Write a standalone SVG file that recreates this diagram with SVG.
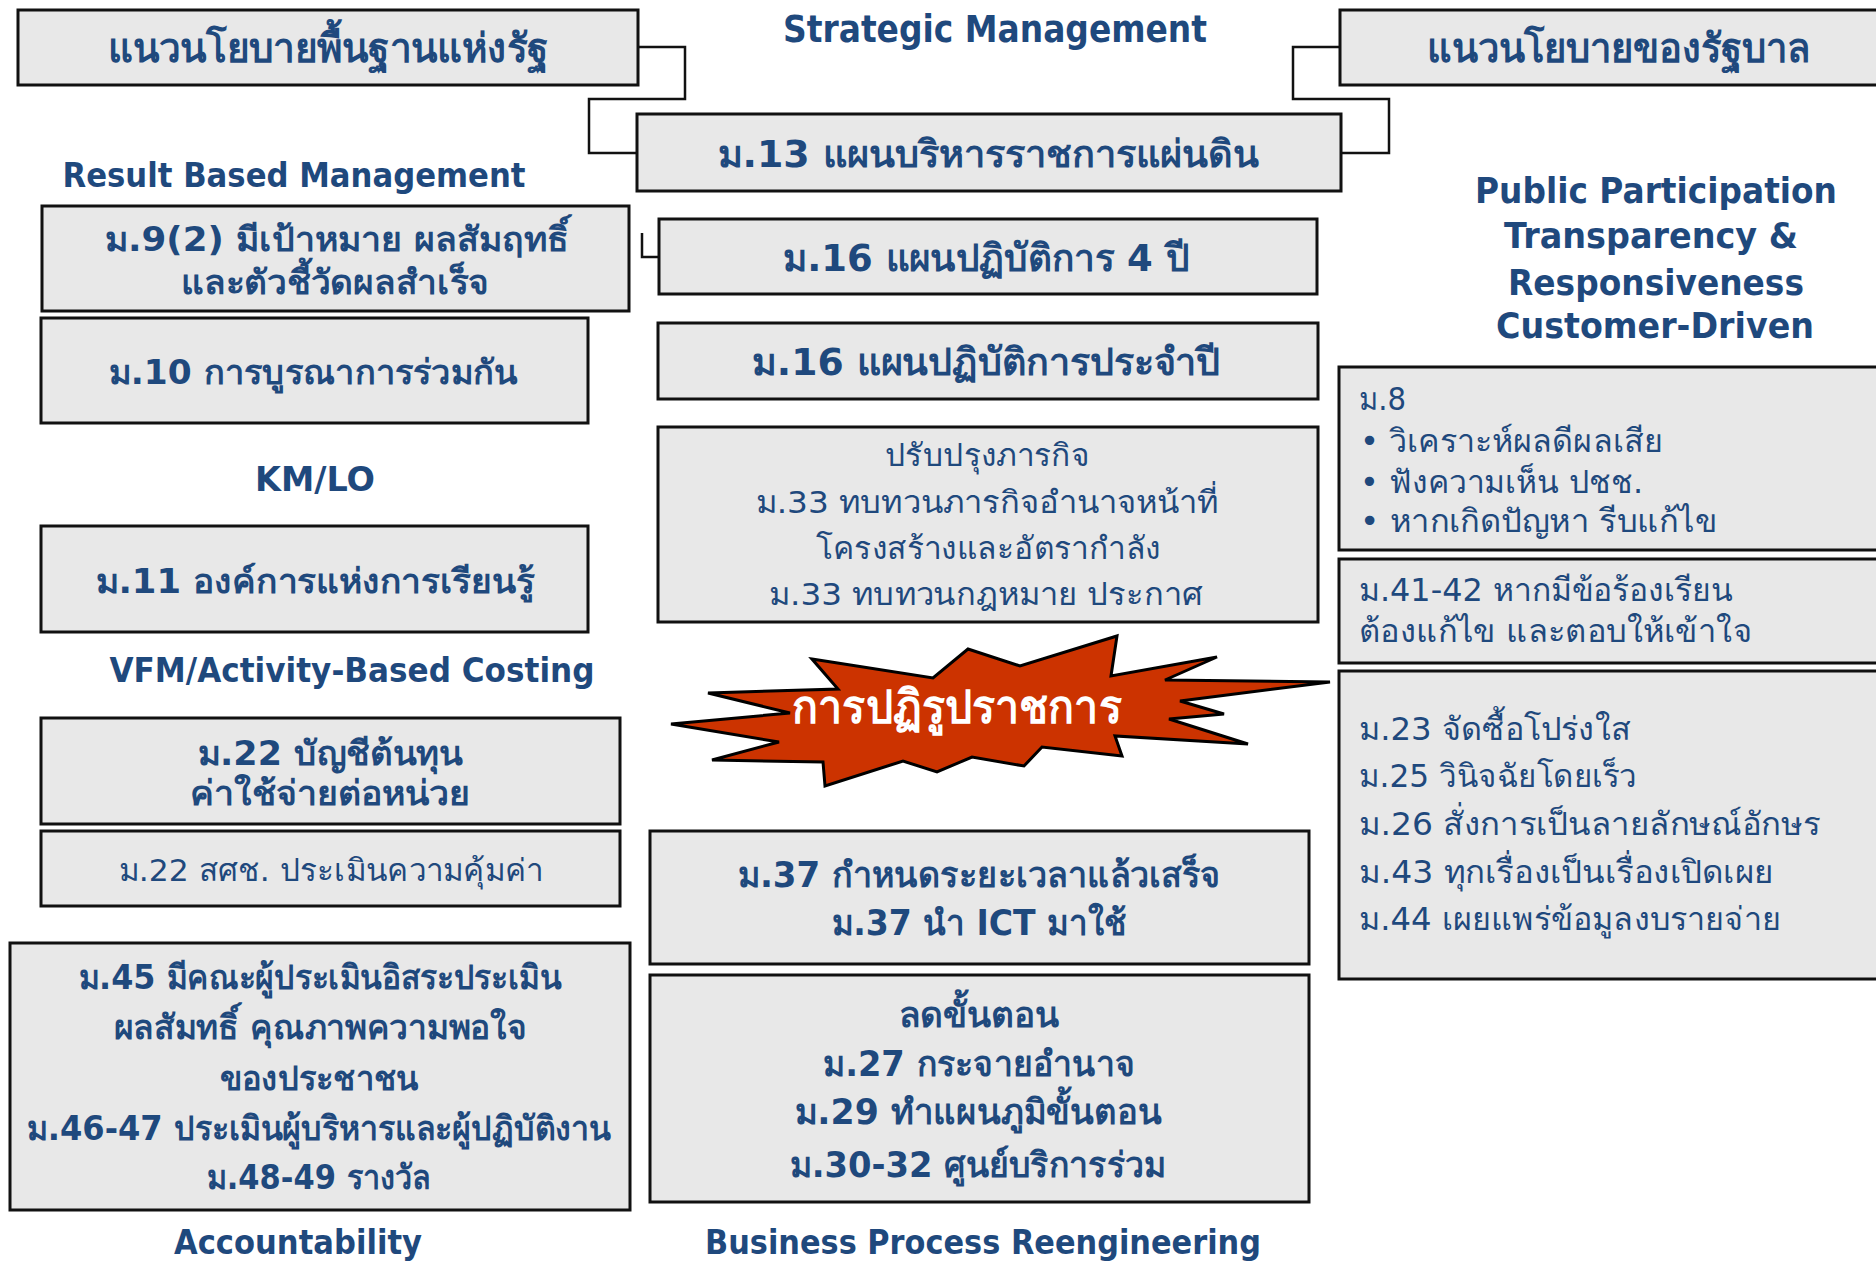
<svg xmlns="http://www.w3.org/2000/svg" width="1876" height="1263" viewBox="0 0 1876 1263">
<style>
.box{fill:#e8e8e8;stroke:#111;stroke-width:3}
.conn{fill:none;stroke:#111;stroke-width:2.5}
text{font-family:"DejaVu Sans","Noto Sans",sans-serif;fill:#1f497d;text-anchor:middle}
.b{font-weight:bold}
.l{text-anchor:start}
.burst{fill:#cc3300;stroke:#000;stroke-width:3;stroke-linejoin:miter}
</style>
<rect width="1876" height="1263" fill="#fff"/>
<g id="connectors">
<path class="conn" d="M638,47 H685 V99 H589 V153 H637"/>
<path class="conn" d="M1340,47 H1293 V99 H1389 V153 H1341"/>
<path class="conn" d="M642,233 V257 H659"/>
</g>
<g id="title-strategic"><text class="b" x="995" y="42" font-size="37" textLength="424" lengthAdjust="spacingAndGlyphs">Strategic Management</text></g>
<g id="box-state-policy"><rect class="box" x="18" y="10" width="620" height="75"/><text class="b" x="328" y="62" font-size="40" textLength="441" lengthAdjust="spacingAndGlyphs">แนวนโยบายพื้นฐานแห่งรัฐ</text></g>
<g id="box-gov-policy"><rect class="box" x="1340" y="10" width="560" height="75"/><text class="b" x="1619" y="62" font-size="40" textLength="384" lengthAdjust="spacingAndGlyphs">แนวนโยบายของรัฐบาล</text></g>
<g id="box-m13"><rect class="box" x="637" y="114" width="704" height="77"/><text class="b" x="988" y="167" font-size="38" textLength="541" lengthAdjust="spacingAndGlyphs">ม.13 แผนบริหารราชการแผ่นดิน</text></g>
<g id="title-rbm"><text class="b" x="294" y="187" font-size="34" textLength="463" lengthAdjust="spacingAndGlyphs">Result Based Management</text></g>
<g id="box-m9"><rect class="box" x="42" y="206" width="587" height="105"/><text class="b" x="337" y="251" font-size="34" textLength="464" lengthAdjust="spacingAndGlyphs">ม.9(2) มีเป้าหมาย ผลสัมฤทธิ์</text><text class="b" x="335" y="294" font-size="34" textLength="308" lengthAdjust="spacingAndGlyphs">และตัวชี้วัดผลสำเร็จ</text></g>
<g id="box-m16-4y"><rect class="box" x="659" y="219" width="658" height="75"/><text class="b" x="986" y="271" font-size="38" textLength="406" lengthAdjust="spacingAndGlyphs">ม.16 แผนปฏิบัติการ 4 ปี</text></g>
<g id="title-public"><text class="b" x="1656" y="203" font-size="35" textLength="362" lengthAdjust="spacingAndGlyphs">Public Participation</text><text class="b" x="1651" y="248" font-size="35" textLength="294" lengthAdjust="spacingAndGlyphs">Transparency &amp;</text><text class="b" x="1656" y="295" font-size="35" textLength="296" lengthAdjust="spacingAndGlyphs">Responsiveness</text><text class="b" x="1655" y="338" font-size="35" textLength="318" lengthAdjust="spacingAndGlyphs">Customer-Driven</text></g>
<g id="box-m10"><rect class="box" x="41" y="318" width="547" height="105"/><text class="b" x="313" y="384" font-size="34" textLength="409" lengthAdjust="spacingAndGlyphs">ม.10 การบูรณาการร่วมกัน</text></g>
<g id="box-m16-yr"><rect class="box" x="658" y="323" width="660" height="76"/><text class="b" x="986" y="375" font-size="38" textLength="468" lengthAdjust="spacingAndGlyphs">ม.16 แผนปฏิบัติการประจำปี</text></g>
<g id="title-kmlo"><text class="b" x="315" y="491" font-size="34" textLength="120" lengthAdjust="spacingAndGlyphs">KM/LO</text></g>
<g id="box-m33"><rect class="box" x="658" y="427" width="660" height="195"/><text x="987" y="466" font-size="31" textLength="204" lengthAdjust="spacingAndGlyphs">ปรับปรุงภารกิจ</text><text x="987" y="513" font-size="31" textLength="463" lengthAdjust="spacingAndGlyphs">ม.33 ทบทวนภารกิจอำนาจหน้าที่</text><text x="988" y="559" font-size="31" textLength="345" lengthAdjust="spacingAndGlyphs">โครงสร้างและอัตรากำลัง</text><text x="986" y="605" font-size="31" textLength="434" lengthAdjust="spacingAndGlyphs">ม.33 ทบทวนกฎหมาย ประกาศ</text></g>
<g id="box-m8"><rect class="box" x="1339" y="367" width="561" height="183"/><text class="l" x="1359" y="410" font-size="32" textLength="47" lengthAdjust="spacingAndGlyphs">ม.8</text><text class="l" x="1360" y="452" font-size="32" textLength="303" lengthAdjust="spacingAndGlyphs">• วิเคราะห์ผลดีผลเสีย</text><text class="l" x="1360" y="493" font-size="32" textLength="283" lengthAdjust="spacingAndGlyphs">• ฟังความเห็น ปชช.</text><text class="l" x="1360" y="532" font-size="32" textLength="357" lengthAdjust="spacingAndGlyphs">• หากเกิดปัญหา รีบแก้ไข</text></g>
<g id="box-m11"><rect class="box" x="41" y="526" width="547" height="106"/><text class="b" x="315" y="593" font-size="34" textLength="439" lengthAdjust="spacingAndGlyphs">ม.11 องค์การแห่งการเรียนรู้</text></g>
<g id="box-m41"><rect class="box" x="1339" y="559" width="561" height="104"/><text class="l" x="1359" y="601" font-size="32" textLength="374" lengthAdjust="spacingAndGlyphs">ม.41-42 หากมีข้อร้องเรียน</text><text class="l" x="1359" y="642" font-size="32" textLength="393" lengthAdjust="spacingAndGlyphs">ต้องแก้ไข และตอบให้เข้าใจ</text></g>
<g id="title-vfm"><text class="b" x="352" y="682" font-size="34" textLength="485" lengthAdjust="spacingAndGlyphs">VFM/Activity-Based Costing</text></g>
<g id="burst"><polygon class="burst" points="812,659 933,678 968,649 1020,666 1117,636 1111,676 1217,657 1165,680 1330,682 1180,701 1224,714 1169,719 1248,744 1115,736 1122,756 1042,747 1024,766 972,757 937,772 903,761 825,786 823,762 712,760 779,742 671,724 790,713 708,693 838,689"/><text class="b" x="957" y="723" font-size="46" style="fill:#fff" textLength="330" lengthAdjust="spacingAndGlyphs">การปฏิรูปราชการ</text></g>
<g id="box-m23"><rect class="box" x="1339" y="671" width="561" height="308"/><text class="l" x="1359" y="740" font-size="32" textLength="272" lengthAdjust="spacingAndGlyphs">ม.23 จัดซื้อโปร่งใส</text><text class="l" x="1359" y="787" font-size="32" textLength="278" lengthAdjust="spacingAndGlyphs">ม.25 วินิจฉัยโดยเร็ว</text><text class="l" x="1359" y="835" font-size="32" textLength="461" lengthAdjust="spacingAndGlyphs">ม.26 สั่งการเป็นลายลักษณ์อักษร</text><text class="l" x="1359" y="883" font-size="32" textLength="415" lengthAdjust="spacingAndGlyphs">ม.43 ทุกเรื่องเป็นเรื่องเปิดเผย</text><text class="l" x="1359" y="930" font-size="32" textLength="422" lengthAdjust="spacingAndGlyphs">ม.44 เผยแพร่ข้อมูลงบรายจ่าย</text></g>
<g id="box-m22a"><rect class="box" x="41" y="718" width="579" height="106"/><text class="b" x="330" y="765" font-size="34" textLength="265" lengthAdjust="spacingAndGlyphs">ม.22 บัญชีต้นทุน</text><text class="b" x="330" y="805" font-size="34" textLength="280" lengthAdjust="spacingAndGlyphs">ค่าใช้จ่ายต่อหน่วย</text></g>
<g id="box-m22b"><rect class="box" x="41" y="831" width="579" height="75"/><text x="331" y="881" font-size="31" textLength="425" lengthAdjust="spacingAndGlyphs">ม.22 สศช. ประเมินความคุ้มค่า</text></g>
<g id="box-m37"><rect class="box" x="650" y="831" width="659" height="133"/><text class="b" x="979" y="887" font-size="35" textLength="483" lengthAdjust="spacingAndGlyphs">ม.37 กำหนดระยะเวลาแล้วเสร็จ</text><text class="b" x="979" y="935" font-size="35" textLength="295" lengthAdjust="spacingAndGlyphs">ม.37 นำ ICT มาใช้</text></g>
<g id="box-m45"><rect class="box" x="10" y="943" width="620" height="267"/><text class="b" x="320" y="989" font-size="34" textLength="483" lengthAdjust="spacingAndGlyphs">ม.45 มีคณะผู้ประเมินอิสระประเมิน</text><text class="b" x="320" y="1039" font-size="34" textLength="413" lengthAdjust="spacingAndGlyphs">ผลสัมทธิ์ คุณภาพความพอใจ</text><text class="b" x="319" y="1090" font-size="34" textLength="198" lengthAdjust="spacingAndGlyphs">ของประชาชน</text><text class="b" x="319" y="1140" font-size="34" textLength="584" lengthAdjust="spacingAndGlyphs">ม.46-47 ประเมินผู้บริหารและผู้ปฏิบัติงาน</text><text class="b" x="319" y="1189" font-size="34" textLength="224" lengthAdjust="spacingAndGlyphs">ม.48-49 รางวัล</text></g>
<g id="box-bpr"><rect class="box" x="650" y="975" width="659" height="227"/><text class="b" x="979" y="1027" font-size="35" textLength="161" lengthAdjust="spacingAndGlyphs">ลดขั้นตอน</text><text class="b" x="979" y="1076" font-size="35" textLength="312" lengthAdjust="spacingAndGlyphs">ม.27 กระจายอำนาจ</text><text class="b" x="978" y="1124" font-size="35" textLength="367" lengthAdjust="spacingAndGlyphs">ม.29 ทำแผนภูมิขั้นตอน</text><text class="b" x="978" y="1177" font-size="35" textLength="377" lengthAdjust="spacingAndGlyphs">ม.30-32 ศูนย์บริการร่วม</text></g>
<g id="title-accountability"><text class="b" x="298" y="1254" font-size="33" textLength="248" lengthAdjust="spacingAndGlyphs">Accountability</text></g>
<g id="title-bpr"><text class="b" x="983" y="1254" font-size="33" textLength="556" lengthAdjust="spacingAndGlyphs">Business Process Reengineering</text></g>
</svg>
